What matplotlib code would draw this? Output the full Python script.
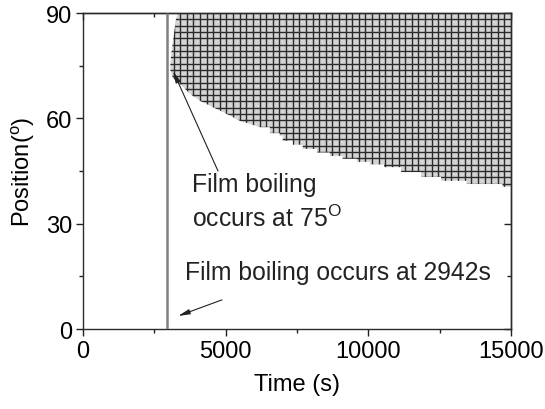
import numpy as np
import matplotlib
matplotlib.use("Agg")
import matplotlib.pyplot as plt
from matplotlib.collections import LineCollection
from matplotlib.ticker import MultipleLocator

plt.rcParams["font.family"] = ["Liberation Sans", "DejaVu Sans"]
plt.rcParams["mathtext.fontset"] = "custom"
plt.rcParams["mathtext.rm"] = "Liberation Sans"
plt.rcParams["mathtext.it"] = "Liberation Sans"

# Onset of film boiling (s)
onset_time = 2942

# Left edge of the film-boiling zone, from the top down (time s, position deg)
edge_time = [3330, 3260, 3165, 3085, 3060, 3070, 3150]
edge_angle = [90.0, 88.3, 82.6, 77.9, 75.0, 73.5, 71.5]

# Lower edge of the film-boiling zone (time s, position deg)
lower_time = [3400, 3750, 4100, 4450, 4800, 5150, 5500, 5850, 6200,
              6550, 6900, 7000, 7350, 7700, 8200, 8650, 9100, 9600,
              10050, 10550, 11150, 11850, 12550, 13450, 14700, 15000]
lower_angle = [69.8, 67.0, 65.0, 63.6, 62.2, 60.8, 59.3, 58.4, 57.5,
               55.8, 55.1, 53.6, 52.5, 51.3, 50.3, 49.3, 48.5, 47.6,
               46.9, 46.1, 44.7, 43.3, 42.2, 41.3, 40.5, 40.0]

x_ticks = [0, 5000, 10000, 15000]
y_ticks = [0, 30, 60, 90]

fig = plt.figure(figsize=(5.45, 4.10), dpi=100)
ax = fig.add_axes([0.1523, 0.1951, 0.7853, 0.7707])

# Outline of the zone: left edge, stepped lower edge, right side, top
step_t, step_a = [], []
for i, (t, a) in enumerate(zip(lower_time, lower_angle)):
    if i > 0 and t >= 6550:
        step_t.append(t)
        step_a.append(lower_angle[i - 1])
    step_t.append(t)
    step_a.append(a)
outline_t = edge_time + step_t + [15000, 15000]
outline_a = edge_angle + step_a + [lower_angle[-1], 90.0]

zone = ax.fill(outline_t, outline_a, facecolor="#d4d4d4",
               edgecolor="none", zorder=2)[0]

# Mesh lines inside the zone
mesh_t = np.linspace(onset_time, 15000, 53)
mesh_a = np.arange(0, 90.01, 1.8)
segs = [[(t, 0), (t, 90)] for t in mesh_t] + \
       [[(onset_time, a), (15000, a)] for a in mesh_a]
mesh = LineCollection(segs, colors="#2a2a2a", linewidths=1.0, zorder=3)
ax.add_collection(mesh)
mesh.set_clip_path(zone)

# Onset line
ax.plot([onset_time, onset_time], [0, 90], color="#808080", lw=1.8,
        zorder=4, solid_capstyle="butt")

ax.set_xlim(0, 15000)
ax.set_ylim(0, 90)
ax.set_xticks(x_ticks)
ax.set_yticks(y_ticks)
ax.xaxis.set_minor_locator(MultipleLocator(2500))
ax.yaxis.set_minor_locator(MultipleLocator(15))
ax.tick_params(which="major", direction="out", length=5, width=1,
               labelsize=17, pad=3, color="#222222")
ax.tick_params(which="minor", direction="out", length=3, width=1,
               color="#222222")
ax.tick_params(right=False, top=False)

top = ax.secondary_xaxis("top")
top.set_xticks(x_ticks)
top.xaxis.set_minor_locator(MultipleLocator(2500))
top.tick_params(which="major", direction="in", length=5, width=1,
                labeltop=False, color="#222222")
top.tick_params(which="minor", direction="in", length=3, width=1,
                color="#222222")
right = ax.secondary_yaxis("right")
right.set_yticks(y_ticks)
right.yaxis.set_minor_locator(MultipleLocator(15))
right.tick_params(which="major", direction="in", length=5, width=1,
                  labelright=False, color="#222222")
right.tick_params(which="minor", direction="in", length=3, width=1,
                  color="#222222")
for s in list(ax.spines.values()) + [top.spines["top"], right.spines["right"]]:
    s.set_color("#2b2b2b")
    s.set_linewidth(1.0)

ax.set_xlabel("Time (s)", fontsize=17, labelpad=8)
ax.set_ylabel("Position($^{\\rm o}$)", fontsize=17, labelpad=6)

arrow = dict(arrowstyle="-|>,head_length=0.7,head_width=0.15",
             color="#222222", lw=0.8, shrinkA=0, shrinkB=0)
ax.annotate("", xy=(3155, 73.5), xytext=(4732, 45.0),
            arrowprops=arrow, zorder=6)
ax.text(3820, 39.4, "Film boiling", fontsize=17.8, va="baseline",
        ha="left", color="#222222", zorder=6)
ax.text(3820, 29.4, "occurs at 75$^{\\rm O}$", fontsize=17.8,
        va="baseline", ha="left", color="#222222", zorder=6)

ax.annotate("", xy=(3330, 3.7), xytext=(4870, 8.3),
            arrowprops=arrow, zorder=6)
ax.text(3575, 14.2, "Film boiling occurs at 2942s", fontsize=17.8,
        va="baseline", ha="left", color="#222222", zorder=6)

fig.savefig("out.png", dpi=100)
